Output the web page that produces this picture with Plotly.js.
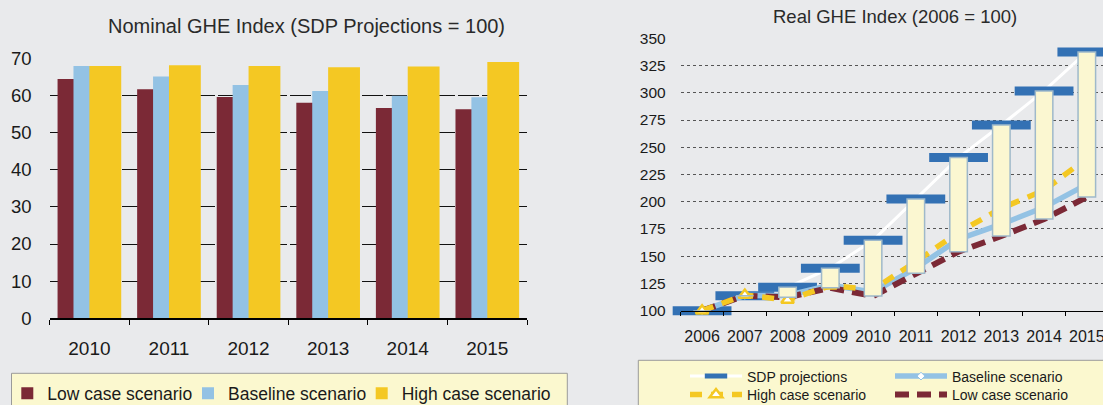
<!DOCTYPE html>
<html>
<head>
<meta charset="utf-8">
<script src="https://cdn.plot.ly/plotly-3.0.1.min.js"></script>
<style>
html, body { margin: 0; padding: 0; overflow: hidden; background: #e9eaec; }
#chart { width: 1103px; height: 405px; }
</style>
</head>
<body>
<div id="chart"></div>
<script>
// ---- Left chart: Nominal GHE Index (SDP Projections = 100)
const nominalYears = ["2010", "2011", "2012", "2013", "2014", "2015"];
const nominalLow = [64.4, 61.7, 59.6, 58.0, 56.6, 56.3];
const nominalBaseline = [67.9, 65.1, 62.8, 61.2, 59.9, 59.5];
const nominalHigh = [67.9, 68.1, 67.9, 67.6, 67.8, 69.0];

// ---- Right chart: Real GHE Index (2006 = 100)
const realYears = ["2006", "2007", "2008", "2009", "2010", "2011", "2012", "2013", "2014", "2015"];
const realSDP = [100, 113.8, 121.5, 139, 164.6, 202.5, 240.5, 270.4, 301.7, 337.5];
const realBaseline = [100, 114, 114, 123.5, 117, 139, 165.6, 179.4, 194.9, 216];
const realHigh = [100, 114.4, 109.8, 123, 119.5, 145, 172, 194, 210.5, 240];
const realLow = [100, 113.8, 112.3, 121, 113.5, 134.3, 154.2, 168.5, 184.1, 204.3];

const leftTitle = "Nominal GHE Index (SDP Projections = 100)";
const rightTitle = "Real GHE Index (2006 = 100)";

const FONT = "Liberation Sans, Arial, sans-serif";
const W = 1103, H = 405;
const px = v => v / W;
const py = v => (H - v) / H;

const C = {
  low: "#7b2936",
  base: "#93c2e4",
  high: "#f4c823",
  sdpMarker: "#3371b4",
  barFill: "#fbf7d1",
  barLine: "#9fb9ca",
  bg: "#e9eaec",
  legendBg: "#fbf8cf"
};

const traces = [
  // left bars
  { type: "bar", name: "Low case scenario", x: nominalYears, y: nominalLow,
    xaxis: "x", yaxis: "y", legend: "legend",
    width: 0.4, offset: -0.4, marker: { color: C.low } },
  { type: "bar", name: "Baseline scenario", x: nominalYears, y: nominalBaseline,
    xaxis: "x", yaxis: "y", legend: "legend4",
    width: 0.4, offset: -0.2, marker: { color: C.base } },
  { type: "bar", name: "High case scenario", x: nominalYears, y: nominalHigh,
    xaxis: "x", yaxis: "y", legend: "legend5",
    width: 0.4, offset: 0.0, marker: { color: C.high } },

  // right lines
  { type: "scatter", mode: "lines+markers", name: "SDP projections", x: realYears, y: realSDP,
    xaxis: "x2", yaxis: "y2", legend: "legend2", legendrank: 1, cliponaxis: false,
    line: { color: "#ffffff", width: 3 },
    marker: { symbol: "line-ew", size: 42, color: C.sdpMarker, line: { color: C.sdpMarker, width: 9 } } },
  { type: "scatter", mode: "lines+markers", name: "Baseline scenario", x: realYears, y: realBaseline,
    xaxis: "x2", yaxis: "y2", legend: "legend2", legendrank: 2, cliponaxis: false,
    line: { color: C.base, width: 5.5 },
    marker: { symbol: "diamond", size: 6, color: "#ffffff", line: { color: C.base, width: 1 } } },
  { type: "scatter", mode: "lines", name: "Low case scenario", x: realYears, y: realLow,
    xaxis: "x2", yaxis: "y2", legend: "legend3", legendrank: 2, cliponaxis: false,
    line: { color: C.low, width: 6, dash: "14px,8px" } },
  { type: "scatter", mode: "lines+markers", name: "High case scenario", x: realYears, y: realHigh,
    xaxis: "x2", yaxis: "y2", legend: "legend3", legendrank: 1, cliponaxis: false,
    line: { color: C.high, width: 5.5, dash: "12px,9px" },
    marker: { symbol: "triangle-up", size: 11, color: "#ffffff", line: { color: C.high, width: 2.5 } } },

  // right floating bars (SDP down to low case)
  { type: "bar", name: "SDP to low case", x: realYears, base: realLow,
    y: realSDP.map((v, i) => v - realLow[i]),
    xaxis: "x3", yaxis: "y3", showlegend: false, width: 0.41,
    marker: { color: C.barFill, line: { color: C.barLine, width: 1.5 } } }
];

const xRange2 = [-0.5, -0.5 + (W - 680.7) / 42.75];

const leftLegend = (xPix) => ({
  orientation: "h", x: px(xPix), y: py(393.3), xanchor: "left", yanchor: "middle",
  bgcolor: "rgba(0,0,0,0)", borderwidth: 0, itemwidth: 30,
  font: { family: FONT, size: 17.5, color: "#1a1a1a" }, itemclick: false, itemdoubleclick: false
});
const rightLegend = (yPix) => ({
  orientation: "h", x: px(685), y: py(yPix), xanchor: "left", yanchor: "middle",
  bgcolor: "rgba(0,0,0,0)", borderwidth: 0, entrywidth: 138, itemwidth: 52,
  font: { family: FONT, size: 14, color: "#1a1a1a" }, itemclick: false, itemdoubleclick: false
});

const layout = {
  width: W, height: H, autosize: false,
  margin: { l: 0, r: 0, t: 0, b: 0, pad: 0, autoexpand: false },
  paper_bgcolor: C.bg, plot_bgcolor: C.bg,
  font: { family: FONT, color: "#222" },
  barmode: "overlay",
  xaxis: {
    domain: [px(49.6), px(527.1)], type: "category", anchor: "y",
    tickson: "boundaries", ticks: "outside", ticklen: 5, tickcolor: "#000", tickwidth: 1,
    showline: true, linecolor: "#000", linewidth: 1.5, showgrid: false, tickangle: 0,
    tickfont: { family: FONT, size: 19, color: "#1a1a1a" }, ticklabelstandoff: 12,
    fixedrange: true
  },
  yaxis: {
    domain: [py(318.3), py(58.3)], range: [0, 70], dtick: 10, anchor: "x",
    showgrid: true, gridcolor: "#111", gridwidth: 1, griddash: "21px,3px",
    zeroline: false, showline: false, ticks: "",
    tickfont: { family: FONT, size: 18.5, color: "#1a1a1a" }, ticklabelstandoff: 17,
    fixedrange: true
  },
  xaxis2: {
    domain: [px(680.7), 1], type: "category", anchor: "y2",
    categoryorder: "array", categoryarray: realYears, range: xRange2,
    tickson: "boundaries", ticks: "outside", ticklen: 4, tickcolor: "#000", tickwidth: 1,
    showline: true, linecolor: "#000", linewidth: 1.5, showgrid: false, tickangle: 0,
    tickfont: { family: FONT, size: 16, color: "#1a1a1a" }, ticklabelstandoff: 11,
    fixedrange: true
  },
  yaxis2: {
    domain: [py(310.7), py(38.3)], range: [100, 350], dtick: 25, anchor: "x2",
    showgrid: true, gridcolor: "#555", gridwidth: 1, griddash: "dot",
    zeroline: false, showline: false, ticks: "",
    tickfont: { family: FONT, size: 15.5, color: "#1a1a1a" }, ticklabelstandoff: 14,
    fixedrange: true
  },
  xaxis3: {
    overlaying: "x2", type: "category", anchor: "y3", visible: false,
    categoryorder: "array", categoryarray: realYears, range: xRange2, fixedrange: true
  },
  yaxis3: {
    overlaying: "y2", anchor: "x3", visible: false, range: [100, 350], fixedrange: true
  },
  legend: leftLegend(7.3),
  legend4: leftLegend(188),
  legend5: leftLegend(361.7),
  legend2: rightLegend(376.5),
  legend3: rightLegend(395),
  annotations: [
    { text: leftTitle, xref: "paper", yref: "paper", x: px(306.6), y: py(26),
      xanchor: "center", yanchor: "middle", showarrow: false,
      font: { family: FONT, size: 20, color: "#2a2a2a" } },
    { text: rightTitle, xref: "paper", yref: "paper", x: px(894.5), y: py(16),
      xanchor: "center", yanchor: "middle", showarrow: false,
      font: { family: FONT, size: 18.5, color: "#2a2a2a" } }
  ],
  shapes: [
    { type: "rect", xref: "paper", yref: "paper", layer: "above",
      x0: px(11.5), x1: px(567.3), y0: py(373.3), y1: py(410),
      fillcolor: C.legendBg, line: { color: "#9a9a9a", width: 1 } },
    { type: "rect", xref: "paper", yref: "paper", layer: "above",
      x0: px(638.3), x1: px(1110), y0: py(360.3), y1: py(410),
      fillcolor: C.legendBg, line: { color: "#9a9a9a", width: 1 } }
  ]
};

Plotly.newPlot("chart", traces, layout, { displayModeBar: false, staticPlot: true });
</script>
</body>
</html>
